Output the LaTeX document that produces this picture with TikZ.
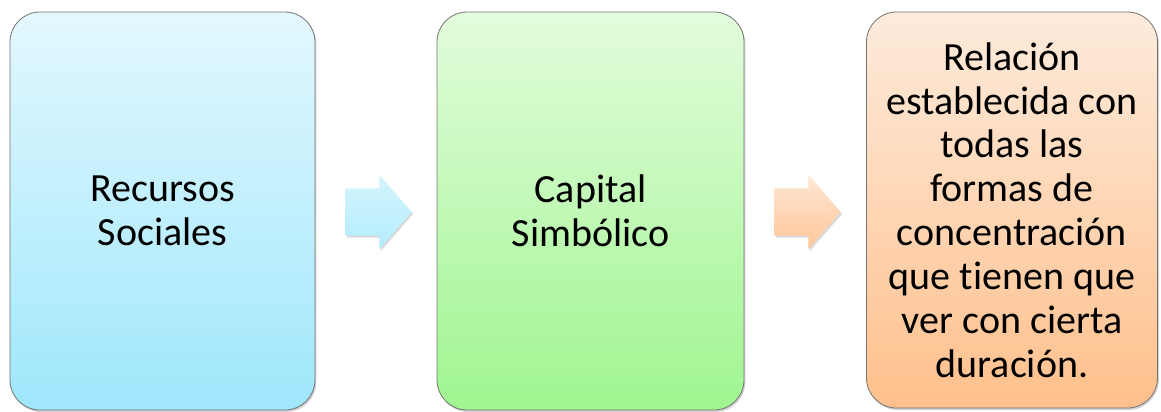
\documentclass[tikz,border=0pt]{standalone}
\usepackage{fontspec}
\setmainfont{Carlito}[Ligatures=NoCommon]
\usetikzlibrary{shapes.arrows,shadows,calc}

\definecolor{celesteA}{HTML}{E3F8FE}
\definecolor{celesteB}{HTML}{9FE7FC}
\definecolor{verdeA}{HTML}{E2FCDC}
\definecolor{verdeB}{HTML}{A0F590}
\definecolor{naranjaA}{HTML}{FDEBDC}
\definecolor{naranjaB}{HTML}{FFC08C}

\begin{document}
\begin{tikzpicture}[x=0.75pt,y=-0.75pt,
   caja/.style={draw=black!55,line width=0.6pt,rounded corners=22.5pt,
     minimum height=298.5pt,align=center,
     font=\fontsize{30}{32.9}\selectfont,
     drop shadow={shadow xshift=1pt,shadow yshift=-1.5pt,opacity=0.35}},
   flecha/.style={single arrow,single arrow head extend=10.1pt,
     single arrow tip angle=98,minimum height=49.5pt,anchor=tail,
     inner xsep=0pt,inner ysep=17.6pt,
     drop shadow={shadow xshift=1pt,shadow yshift=-1.5pt,opacity=0.3}}]
   \useasboundingbox (0,0) rectangle (1161,411);
% cajas
   \node[caja,minimum width=228.75pt,top color=celesteA,bottom color=celesteB]
   (recursos) at (162.5,211) {Recursos\\Sociales};
   \node[caja,minimum width=230.25pt,top color=verdeA,bottom color=verdeB]
   (capital) at (590.5,211) {Capital\\Simbólico};
   \node[caja,minimum width=218.25pt,minimum height=297pt,
   top color=naranjaA,bottom color=naranjaB] (relacion) at (1012,210)
   {Relación\\establecida con\\todas las\\formas de\\concentración\\que tienen que\\ver con cierta\\duración.};
% flechas
   \node[flecha,top color=celesteA!80!celesteB,bottom color=celesteB!80!white]
   (f1) at ($(recursos.east)+(30,1)$) {};
   \node[flecha,top color=naranjaA!90!naranjaB,bottom color=naranjaB!90!white]
   (f2) at ($(capital.east)+(30,1)$) {};
\end{tikzpicture}
\end{document}
